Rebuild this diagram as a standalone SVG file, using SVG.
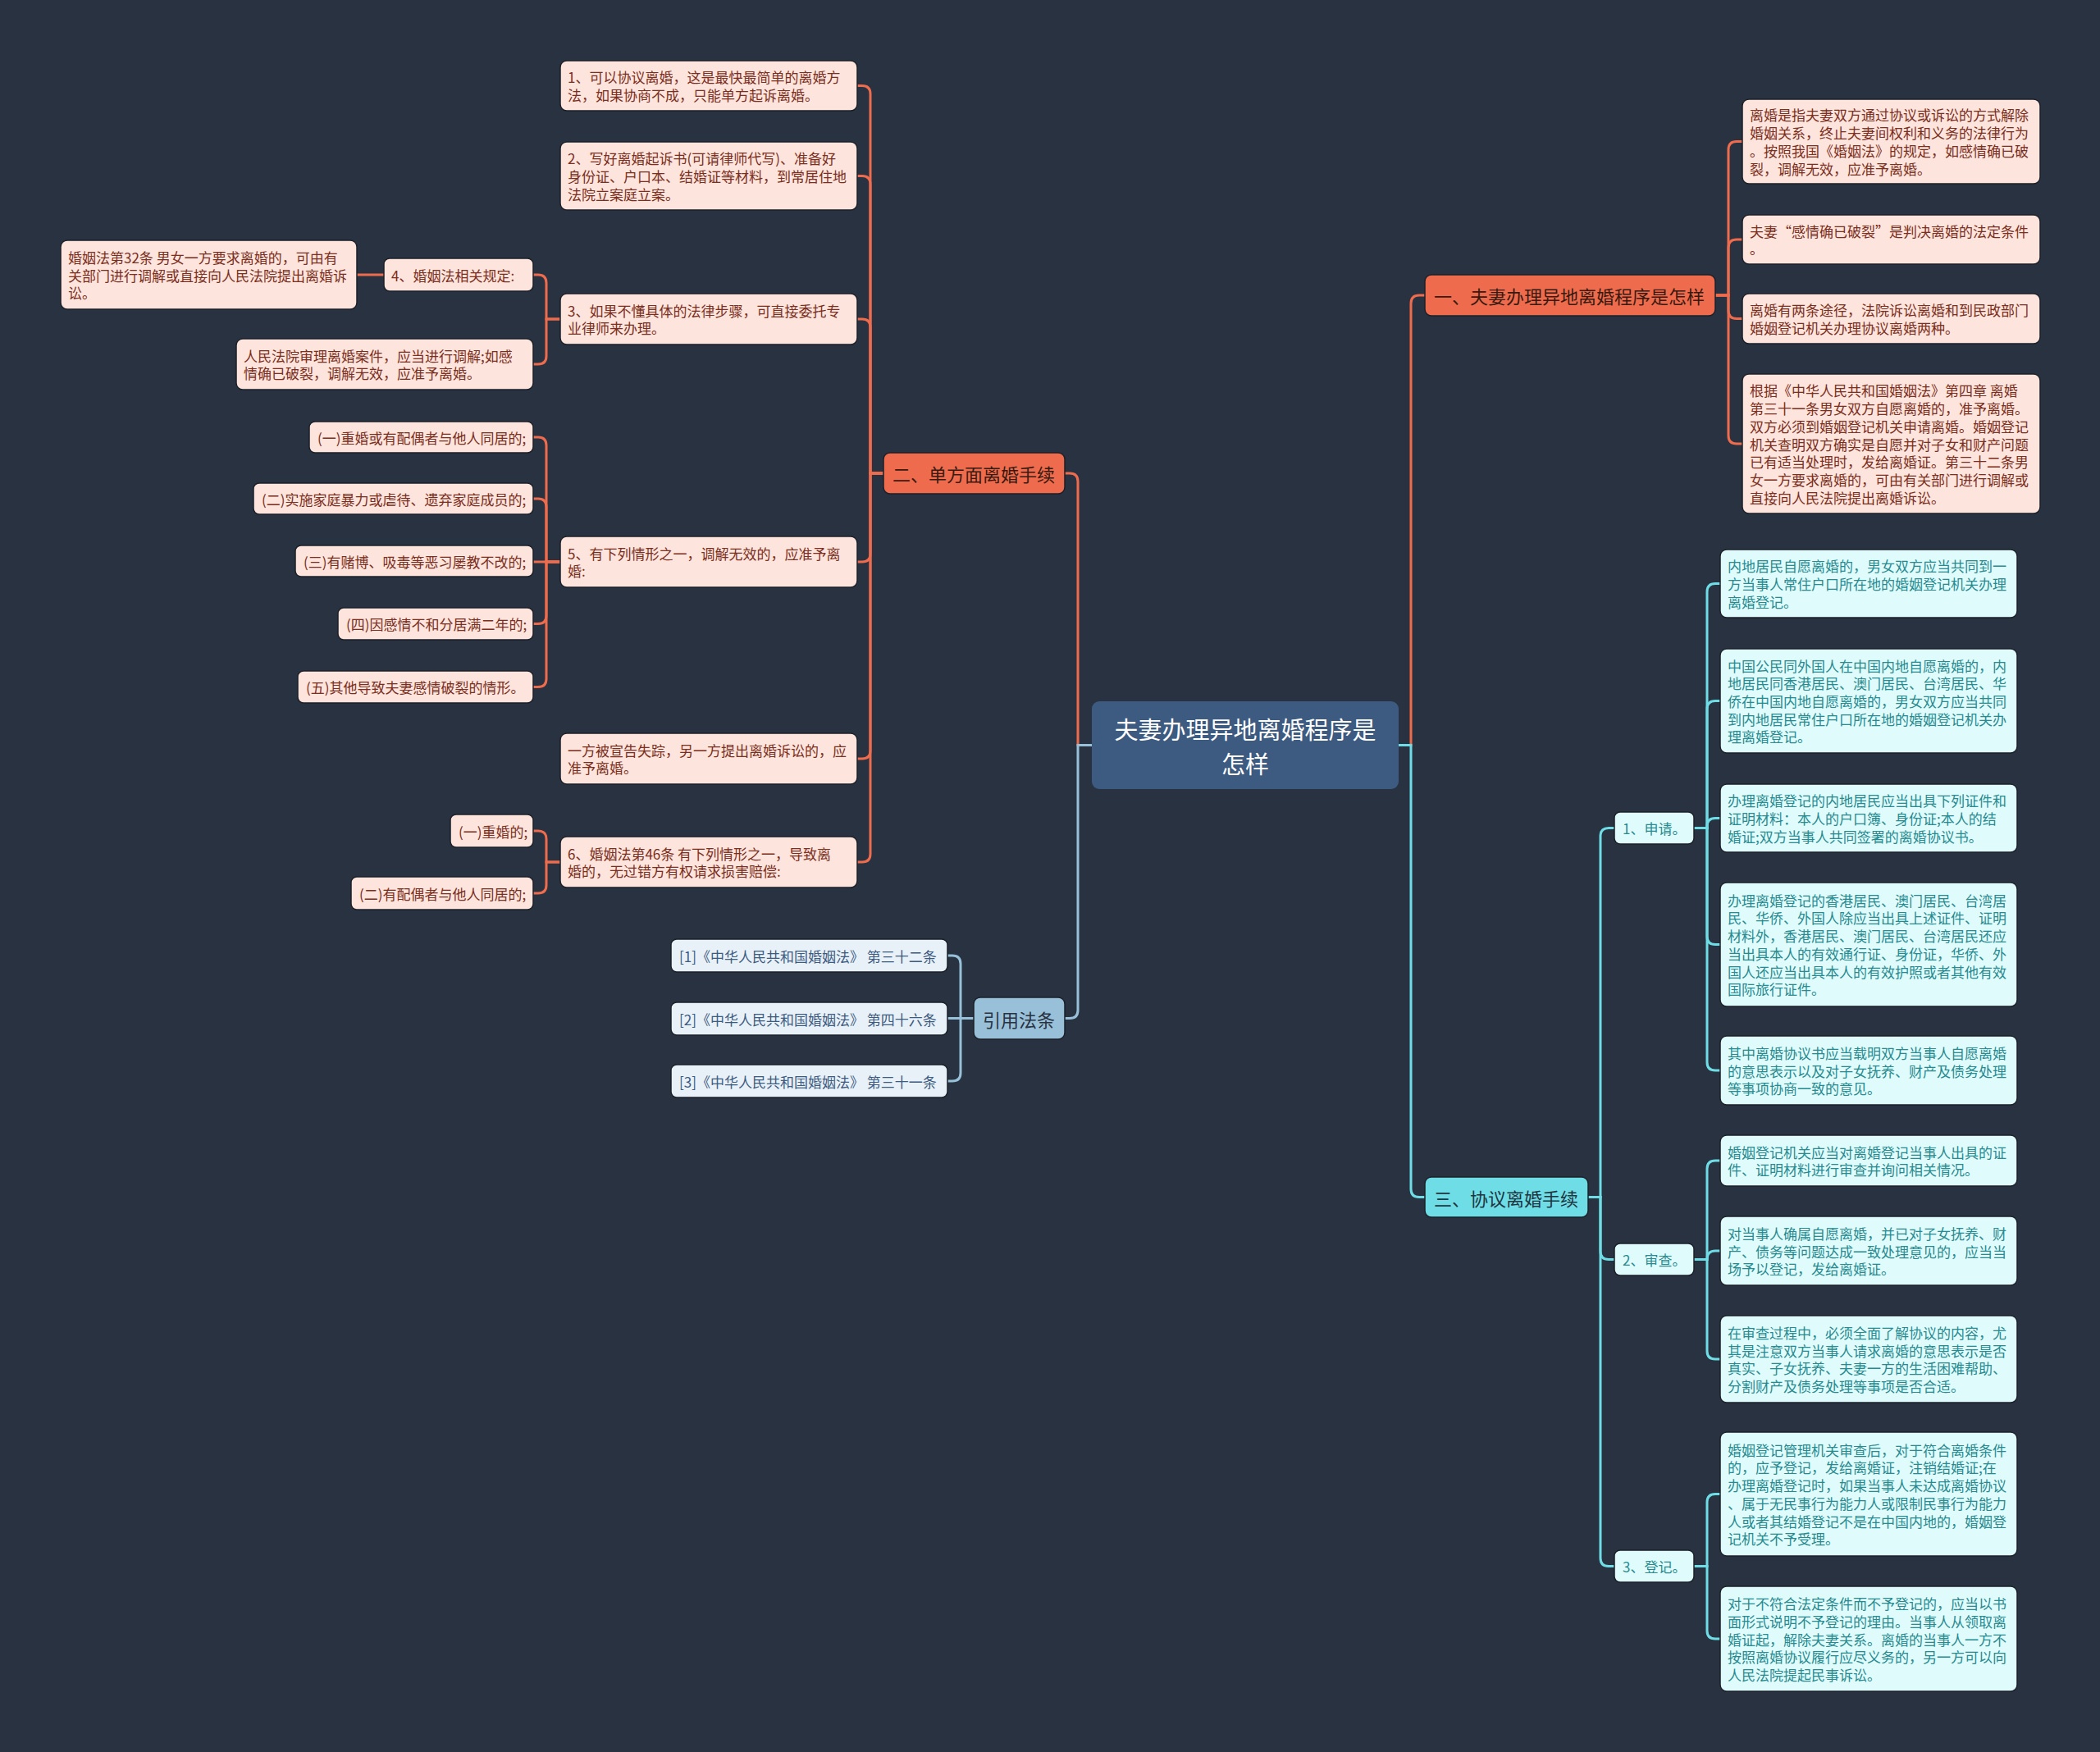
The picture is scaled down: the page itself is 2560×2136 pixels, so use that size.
<svg xmlns="http://www.w3.org/2000/svg" width="2560" height="2136" viewBox="0 0 2560 2136">
<style>
text{font-family:"Noto Sans CJK SC","Noto Sans",sans-serif;dominant-baseline:central}
.leafO rect{fill:#FDE4DC;stroke:#1b2029;stroke-width:1.5}
.leafO text{fill:#7A2E20;font-size:17px}
.leafC rect{fill:#E0FBFC;stroke:#1b2029;stroke-width:1.5}
.leafC text{fill:#268A8F;font-size:17px}
.leafR rect{fill:#E8F1F7;stroke:#1b2029;stroke-width:1.5}
.leafR text{fill:#3D5A80;font-size:17px}
.l1O rect{fill:#EE6C4D;stroke:#1b2029;stroke-width:1.5}
.l1O text{fill:#3A1A10;font-size:22px}
.l1C rect{fill:#6FDDE6;stroke:#1b2029;stroke-width:1.5}
.l1C text{fill:#1F3540;font-size:22px}
.l1R rect{fill:#98C1D9;stroke:#1b2029;stroke-width:1.5}
.l1R text{fill:#293241;font-size:22px}
.root rect{fill:#3D5A80}
.root text{fill:#FFFFFF;font-size:29px;text-anchor:middle}
.cO{fill:none;stroke:#EE6C4D;stroke-width:3}
.cC{fill:none;stroke:#6FDDE6;stroke-width:3}
.cR{fill:none;stroke:#98C1D9;stroke-width:3}
</style>
<rect width="2560" height="2136" fill="#293241"/>
<g id="connectors">
<path class="cO" d="M1705 908.5 H1720 V370 Q1720 360 1730 360 H1737"/>
<path class="cC" d="M1705 908.5 H1720 V1449.5 Q1720 1459.5 1730 1459.5 H1737"/>
<path class="cO" d="M2091 360 H2107 V182.5 Q2107 172.5 2117 172.5 H2124"/>
<path class="cO" d="M2091 360 H2107 V302 Q2107 292 2117 292 H2124"/>
<path class="cO" d="M2091 360 H2107 V378.5 Q2107 388.5 2117 388.5 H2124"/>
<path class="cO" d="M2091 360 H2107 V531 Q2107 541 2117 541 H2124"/>
<path class="cC" d="M1936 1459.5 H1951 V1019.5 Q1951 1009.5 1961 1009.5 H1968"/>
<path class="cC" d="M1936 1459.5 H1951 V1525.5 Q1951 1535.5 1961 1535.5 H1968"/>
<path class="cC" d="M1936 1459.5 H1951 V1899.5 Q1951 1909.5 1961 1909.5 H1968"/>
<path class="cC" d="M2065 1009.5 H2081 V721.5 Q2081 711.5 2091 711.5 H2097"/>
<path class="cC" d="M2065 1009.5 H2081 V864.5 Q2081 854.5 2091 854.5 H2097"/>
<path class="cC" d="M2065 1009.5 H2081 V1007.5 Q2081 997.5 2091 997.5 H2097"/>
<path class="cC" d="M2065 1009.5 H2081 V1141.5 Q2081 1151.5 2091 1151.5 H2097"/>
<path class="cC" d="M2065 1009.5 H2081 V1295 Q2081 1305 2091 1305 H2097"/>
<path class="cC" d="M2065 1535.5 H2081 V1425 Q2081 1415 2091 1415 H2097"/>
<path class="cC" d="M2065 1535.5 H2081 V1535 Q2081 1525 2091 1525 H2097"/>
<path class="cC" d="M2065 1535.5 H2081 V1647 Q2081 1657 2091 1657 H2097"/>
<path class="cC" d="M2065 1909.5 H2081 V1831.5 Q2081 1821.5 2091 1821.5 H2097"/>
<path class="cC" d="M2065 1909.5 H2081 V1988 Q2081 1998 2091 1998 H2097"/>
<path class="cO" d="M1331 908.5 H1314 V587 Q1314 577 1304 577 H1298"/>
<path class="cR" d="M1331 908.5 H1314 V1231.5 Q1314 1241.5 1304 1241.5 H1298"/>
<path class="cO" d="M1077 577 H1061 V114.5 Q1061 104.5 1051 104.5 H1045"/>
<path class="cO" d="M1077 577 H1061 V224.5 Q1061 214.5 1051 214.5 H1045"/>
<path class="cO" d="M1077 577 H1061 V399 Q1061 389 1051 389 H1045"/>
<path class="cO" d="M1077 577 H1061 V675 Q1061 685 1051 685 H1045"/>
<path class="cO" d="M1077 577 H1061 V915 Q1061 925 1051 925 H1045"/>
<path class="cO" d="M1077 577 H1061 V1041 Q1061 1051 1051 1051 H1045"/>
<path class="cO" d="M683 389 H666 V345 Q666 335 656 335 H650"/>
<path class="cO" d="M683 389 H666 V434 Q666 444 656 444 H650"/>
<path class="cO" d="M468 335 H435"/>
<path class="cO" d="M683 685 H666 V543 Q666 533 656 533 H650"/>
<path class="cO" d="M683 685 H666 V618 Q666 608 656 608 H650"/>
<path class="cO" d="M683 685 H650"/>
<path class="cO" d="M683 685 H666 V750.5 Q666 760.5 656 760.5 H650"/>
<path class="cO" d="M683 685 H666 V827.5 Q666 837.5 656 837.5 H650"/>
<path class="cO" d="M683 1051 H666 V1023 Q666 1013 656 1013 H650"/>
<path class="cO" d="M683 1051 H666 V1079 Q666 1089 656 1089 H650"/>
<path class="cR" d="M1187 1241.5 H1171 V1175 Q1171 1165 1161 1165 H1155"/>
<path class="cR" d="M1187 1241.5 H1155"/>
<path class="cR" d="M1187 1241.5 H1171 V1308 Q1171 1318 1161 1318 H1155"/>
</g>

<g id="root" class="root"><rect x="1331" y="855" width="374" height="107" rx="9"/><text x="1518" y="887.5">夫妻办理异地离婚程序是</text><text x="1518" y="929.5">怎样</text></g>

<g id="n1" class="l1O"><rect x="1737" y="335" width="354" height="50" rx="8"/><text x="1748" y="360">一、夫妻办理异地离婚程序是怎样</text></g>
<g id="n1a" class="leafO"><rect x="2124" y="121" width="363" height="103" rx="8"/><text x="2133" y="139.95">离婚是指夫妻双方通过协议或诉讼的方式解除</text><text x="2133" y="161.65">婚姻关系，终止夫妻间权利和义务的法律行为</text><text x="2133" y="183.35">。按照我国《婚姻法》的规定，如感情确已破</text><text x="2133" y="205.05">裂，调解无效，应准予离婚。</text></g>
<g id="n1b" class="leafO"><rect x="2124" y="262" width="363" height="60" rx="8"/><text x="2133" y="281.15">夫妻“感情确已破裂”是判决离婚的法定条件</text><text x="2133" y="302.85">。</text></g>
<g id="n1c" class="leafO"><rect x="2124" y="358" width="363" height="61" rx="8"/><text x="2133" y="377.65">离婚有两条途径，法院诉讼离婚和到民政部门</text><text x="2133" y="399.35">婚姻登记机关办理协议离婚两种。</text></g>
<g id="n1d" class="leafO"><rect x="2124" y="456" width="363" height="170" rx="8"/><text x="2133" y="475.9">根据《中华人民共和国婚姻法》第四章 离婚</text><text x="2133" y="497.6">第三十一条男女双方自愿离婚的，准予离婚。</text><text x="2133" y="519.3">双方必须到婚姻登记机关申请离婚。婚姻登记</text><text x="2133" y="541">机关查明双方确实是自愿并对子女和财产问题</text><text x="2133" y="562.7">已有适当处理时，发给离婚证。第三十二条男</text><text x="2133" y="584.4">女一方要求离婚的，可由有关部门进行调解或</text><text x="2133" y="606.1">直接向人民法院提出离婚诉讼。</text></g>

<g id="n3" class="l1C"><rect x="1737" y="1435" width="199" height="49" rx="8"/><text x="1748" y="1459.5">三、协议离婚手续</text></g>
<g id="n31" class="leafC"><rect x="1968" y="990" width="97" height="39" rx="7"/><text x="1978" y="1009.5">1、申请。</text></g>
<g id="n31a" class="leafC"><rect x="2097" y="670" width="362" height="83" rx="8"/><text x="2106" y="689.8">内地居民自愿离婚的，男女双方应当共同到一</text><text x="2106" y="711.5">方当事人常住户口所在地的婚姻登记机关办理</text><text x="2106" y="733.2">离婚登记。</text></g>
<g id="n31b" class="leafC"><rect x="2097" y="791" width="362" height="127" rx="8"/><text x="2106" y="811.1">中国公民同外国人在中国内地自愿离婚的，内</text><text x="2106" y="832.8">地居民同香港居民、澳门居民、台湾居民、华</text><text x="2106" y="854.5">侨在中国内地自愿离婚的，男女双方应当共同</text><text x="2106" y="876.2">到内地居民常住户口所在地的婚姻登记机关办</text><text x="2106" y="897.9">理离婚登记。</text></g>
<g id="n31c" class="leafC"><rect x="2097" y="956" width="362" height="83" rx="8"/><text x="2106" y="975.8">办理离婚登记的内地居民应当出具下列证件和</text><text x="2106" y="997.5">证明材料：本人的户口簿、身份证;本人的结</text><text x="2106" y="1019.2">婚证;双方当事人共同签署的离婚协议书。</text></g>
<g id="n31d" class="leafC"><rect x="2097" y="1076" width="362" height="151" rx="8"/><text x="2106" y="1097.25">办理离婚登记的香港居民、澳门居民、台湾居</text><text x="2106" y="1118.95">民、华侨、外国人除应当出具上述证件、证明</text><text x="2106" y="1140.65">材料外，香港居民、澳门居民、台湾居民还应</text><text x="2106" y="1162.35">当出具本人的有效通行证、身份证，华侨、外</text><text x="2106" y="1184.05">国人还应当出具本人的有效护照或者其他有效</text><text x="2106" y="1205.75">国际旅行证件。</text></g>
<g id="n31e" class="leafC"><rect x="2097" y="1263" width="362" height="84" rx="8"/><text x="2106" y="1283.3">其中离婚协议书应当载明双方当事人自愿离婚</text><text x="2106" y="1305">的意思表示以及对子女抚养、财产及债务处理</text><text x="2106" y="1326.7">等事项协商一致的意见。</text></g>
<g id="n32" class="leafC"><rect x="1968" y="1516" width="97" height="39" rx="7"/><text x="1978" y="1535.5">2、审查。</text></g>
<g id="n32a" class="leafC"><rect x="2097" y="1384" width="362" height="62" rx="8"/><text x="2106" y="1404.15">婚姻登记机关应当对离婚登记当事人出具的证</text><text x="2106" y="1425.85">件、证明材料进行审查并询问相关情况。</text></g>
<g id="n32b" class="leafC"><rect x="2097" y="1483" width="362" height="84" rx="8"/><text x="2106" y="1503.3">对当事人确属自愿离婚，并已对子女抚养、财</text><text x="2106" y="1525">产、债务等问题达成一致处理意见的，应当当</text><text x="2106" y="1546.7">场予以登记，发给离婚证。</text></g>
<g id="n32c" class="leafC"><rect x="2097" y="1604" width="362" height="106" rx="8"/><text x="2106" y="1624.45">在审查过程中，必须全面了解协议的内容，尤</text><text x="2106" y="1646.15">其是注意双方当事人请求离婚的意思表示是否</text><text x="2106" y="1667.85">真实、子女抚养、夫妻一方的生活困难帮助、</text><text x="2106" y="1689.55">分割财产及债务处理等事项是否合适。</text></g>
<g id="n33" class="leafC"><rect x="1968" y="1890" width="97" height="39" rx="7"/><text x="1978" y="1909.5">3、登记。</text></g>
<g id="n33a" class="leafC"><rect x="2097" y="1746" width="362" height="151" rx="8"/><text x="2106" y="1767.25">婚姻登记管理机关审查后，对于符合离婚条件</text><text x="2106" y="1788.95">的，应予登记，发给离婚证，注销结婚证;在</text><text x="2106" y="1810.65">办理离婚登记时，如果当事人未达成离婚协议</text><text x="2106" y="1832.35">、属于无民事行为能力人或限制民事行为能力</text><text x="2106" y="1854.05">人或者其结婚登记不是在中国内地的，婚姻登</text><text x="2106" y="1875.75">记机关不予受理。</text></g>
<g id="n33b" class="leafC"><rect x="2097" y="1934" width="362" height="128" rx="8"/><text x="2106" y="1954.6">对于不符合法定条件而不予登记的，应当以书</text><text x="2106" y="1976.3">面形式说明不予登记的理由。当事人从领取离</text><text x="2106" y="1998">婚证起，解除夫妻关系。离婚的当事人一方不</text><text x="2106" y="2019.7">按照离婚协议履行应尽义务的，另一方可以向</text><text x="2106" y="2041.4">人民法院提起民事诉讼。</text></g>

<g id="n2" class="l1O"><rect x="1077" y="552" width="221" height="50" rx="8"/><text x="1088" y="577">二、单方面离婚手续</text></g>
<g id="n21" class="leafO"><rect x="683" y="74" width="362" height="61" rx="8"/><text x="692" y="93.65">1、可以协议离婚，这是最快最简单的离婚方</text><text x="692" y="115.35">法，如果协商不成，只能单方起诉离婚。</text></g>
<g id="n22" class="leafO"><rect x="683" y="173" width="362" height="83" rx="8"/><text x="692" y="192.8">2、写好离婚起诉书(可请律师代写)、准备好</text><text x="692" y="214.5">身份证、户口本、结婚证等材料，到常居住地</text><text x="692" y="236.2">法院立案庭立案。</text></g>
<g id="n23" class="leafO"><rect x="683" y="358" width="362" height="62" rx="8"/><text x="692" y="378.15">3、如果不懂具体的法律步骤，可直接委托专</text><text x="692" y="399.85">业律师来办理。</text></g>
<g id="n231" class="leafO"><rect x="468" y="315" width="182" height="40" rx="7"/><text x="477" y="335">4、婚姻法相关规定:</text></g>
<g id="n2311" class="leafO"><rect x="74" y="293" width="361" height="84" rx="8"/><text x="83" y="313.3">婚姻法第32条 男女一方要求离婚的，可由有</text><text x="83" y="335">关部门进行调解或直接向人民法院提出离婚诉</text><text x="83" y="356.7">讼。</text></g>
<g id="n232" class="leafO"><rect x="288" y="413" width="362" height="62" rx="8"/><text x="297" y="433.15">人民法院审理离婚案件，应当进行调解;如感</text><text x="297" y="454.85">情确已破裂，调解无效，应准予离婚。</text></g>
<g id="n24" class="leafO"><rect x="683" y="654" width="362" height="62" rx="8"/><text x="692" y="674.15">5、有下列情形之一，调解无效的，应准予离</text><text x="692" y="695.85">婚:</text></g>
<g id="n241" class="leafO"><rect x="377" y="514" width="273" height="38" rx="7"/><text x="387" y="533">(一)重婚或有配偶者与他人同居的;</text></g>
<g id="n242" class="leafO"><rect x="309" y="589" width="341" height="38" rx="7"/><text x="319" y="608">(二)实施家庭暴力或虐待、遗弃家庭成员的;</text></g>
<g id="n243" class="leafO"><rect x="360" y="665" width="290" height="38" rx="7"/><text x="370" y="684">(三)有赌博、吸毒等恶习屡教不改的;</text></g>
<g id="n244" class="leafO"><rect x="412" y="741" width="238" height="39" rx="7"/><text x="422" y="760.5">(四)因感情不和分居满二年的;</text></g>
<g id="n245" class="leafO"><rect x="363" y="818" width="287" height="39" rx="7"/><text x="373" y="837.5">(五)其他导致夫妻感情破裂的情形。</text></g>
<g id="n25" class="leafO"><rect x="683" y="894" width="362" height="62" rx="8"/><text x="692" y="914.15">一方被宣告失踪，另一方提出离婚诉讼的，应</text><text x="692" y="935.85">准予离婚。</text></g>
<g id="n26" class="leafO"><rect x="683" y="1020" width="362" height="62" rx="8"/><text x="692" y="1040.15">6、婚姻法第46条 有下列情形之一，导致离</text><text x="692" y="1061.85">婚的，无过错方有权请求损害赔偿:</text></g>
<g id="n261" class="leafO"><rect x="549" y="993" width="101" height="40" rx="7"/><text x="559" y="1013">(一)重婚的;</text></g>
<g id="n262" class="leafO"><rect x="428" y="1069" width="222" height="40" rx="7"/><text x="438" y="1089">(二)有配偶者与他人同居的;</text></g>

<g id="n4" class="l1R"><rect x="1187" y="1216" width="111" height="51" rx="8"/><text x="1198" y="1241.5">引用法条</text></g>
<g id="n41" class="leafR"><rect x="818" y="1145" width="337" height="40" rx="7"/><text x="828" y="1165">[1]《中华人民共和国婚姻法》 第三十二条</text></g>
<g id="n42" class="leafR"><rect x="818" y="1222" width="337" height="40" rx="7"/><text x="828" y="1242">[2]《中华人民共和国婚姻法》 第四十六条</text></g>
<g id="n43" class="leafR"><rect x="818" y="1298" width="337" height="40" rx="7"/><text x="828" y="1318">[3]《中华人民共和国婚姻法》 第三十一条</text></g>
</svg>
